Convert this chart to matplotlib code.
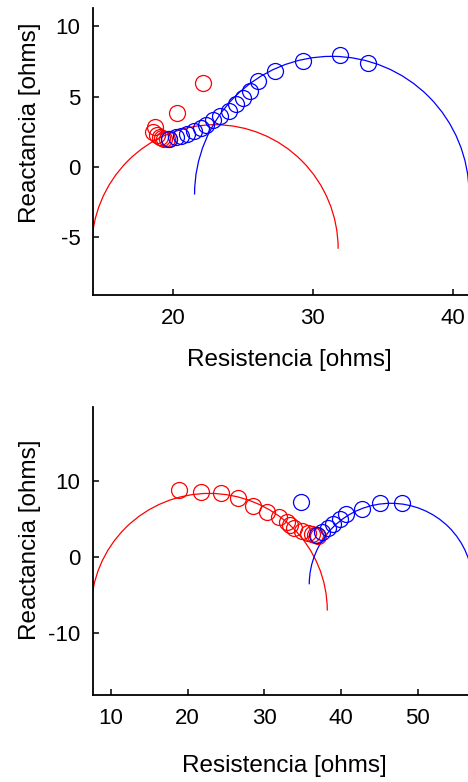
import matplotlib

matplotlib.use("Agg")
import matplotlib.pyplot as plt
from matplotlib.patches import Arc

# puntos medidos (resistencia, reactancia) en ohms
TOP_RED_R = [22.15, 20.3, 18.75, 18.6, 18.9, 19.1, 19.25, 19.4, 19.55, 19.7]
TOP_RED_X = [5.95, 3.85, 2.85, 2.5, 2.25, 2.1, 2.05, 2.0, 1.98, 2.0]
TOP_BLUE_R = [19.7, 20.2, 20.6, 21.0, 21.5, 22.0, 22.4, 22.9, 23.4, 24.0, 24.5,
              25.0, 25.5, 26.1, 27.3, 29.3, 31.9, 33.9]
TOP_BLUE_X = [2.0, 2.1, 2.2, 2.35, 2.55, 2.8, 3.0, 3.3, 3.6, 4.0, 4.5,
              4.9, 5.4, 6.1, 6.8, 7.5, 7.95, 7.4]

BOT_RED_R = [18.9, 21.75, 24.35, 26.55, 28.55, 30.35, 31.85, 32.9, 33.3, 33.85,
             34.9, 35.7, 36.2, 36.6, 37.0]
BOT_RED_X = [8.9, 8.6, 8.45, 7.85, 6.8, 5.95, 5.25, 4.6, 4.3, 3.9,
             3.5, 3.2, 3.0, 2.9, 2.8]
BOT_BLUE_R = [34.8, 36.8, 37.5, 38.3, 39.0, 39.8, 40.7, 42.7, 45.1, 47.9]
BOT_BLUE_X = [7.3, 2.9, 3.3, 3.8, 4.4, 5.1, 5.7, 6.3, 7.15, 7.1]

# circulos ajustados: (centro R, centro X, radio)
TOP_RED_FIT = (23.0, -5.8, 8.8)
TOP_BLUE_FIT = (31.35, -1.95, 9.8)
BOT_RED_FIT = (22.8, -7.0, 15.4)
BOT_BLUE_FIT = (46.5, -3.55, 10.65)

TOP_XTICKS = [20, 30, 40]
TOP_YTICKS = [-5, 0, 5, 10]
BOT_XTICKS = [10, 20, 30, 40, 50]
BOT_YTICKS = [-10, 0, 10]

RED = "#ff0000"
BLUE = "#0000ff"

plt.rcParams["font.family"] = ["Liberation Sans", "DejaVu Sans"]
plt.rcParams["axes.unicode_minus"] = False

W, H = 468, 782
fig = plt.figure(figsize=(W / 100, H / 100), dpi=100)


def panel(rect, red, blue, red_fit, blue_fit, xlim, ylim, xticks, yticks, xlab_pos, ylab_pos):
    ax = fig.add_axes(rect)
    for (cx, cy, r), col in ((red_fit, RED), (blue_fit, BLUE)):
        ax.add_patch(Arc((cx, cy), 2 * r, 2 * r, theta1=0, theta2=180, color=col, lw=0.9, zorder=2))
    for (xs, ys), col in ((red, RED), (blue, BLUE)):
        ax.plot(xs, ys, "o", mfc="none", mec=col, ms=11.5, mew=0.9, zorder=3)
    ax.set_xlim(xlim)
    ax.set_ylim(ylim)
    ax.set_xticks(xticks)
    ax.set_yticks(yticks)
    for s in ("top", "right"):
        ax.spines[s].set_visible(False)
    for s in ("left", "bottom"):
        ax.spines[s].set_linewidth(1.3)
    ax.tick_params(direction="in", length=4, width=1.1, labelsize=16, pad=9)
    ax.set_xlabel("Resistencia [ohms]", fontsize=17.5, va="center")
    ax.set_ylabel("Reactancia [ohms]", fontsize=17.5, va="center")
    ax.xaxis.set_label_coords(*xlab_pos)
    ax.yaxis.set_label_coords(*ylab_pos)
    return ax


# colocacion segun pixeles del original
panel([93 / W, 1 - 295 / H, 375 / W, 287 / H],
      (TOP_RED_R, TOP_RED_X), (TOP_BLUE_R, TOP_BLUE_X), TOP_RED_FIT, TOP_BLUE_FIT,
      (14.3, 41.07), (-9.08, 11.28), TOP_XTICKS, TOP_YTICKS,
      (0.523, -0.228), (-0.168, 0.60))
panel([93 / W, 1 - 695 / H, 375 / W, 288.3 / H],
      (BOT_RED_R, BOT_RED_X), (BOT_BLUE_R, BOT_BLUE_X), BOT_RED_FIT, BOT_BLUE_FIT,
      (7.65, 56.55), (-18.1, 19.8), BOT_XTICKS, BOT_YTICKS,
      (0.509, -0.245), (-0.168, 0.538))

fig.savefig("out.png", dpi=100)
